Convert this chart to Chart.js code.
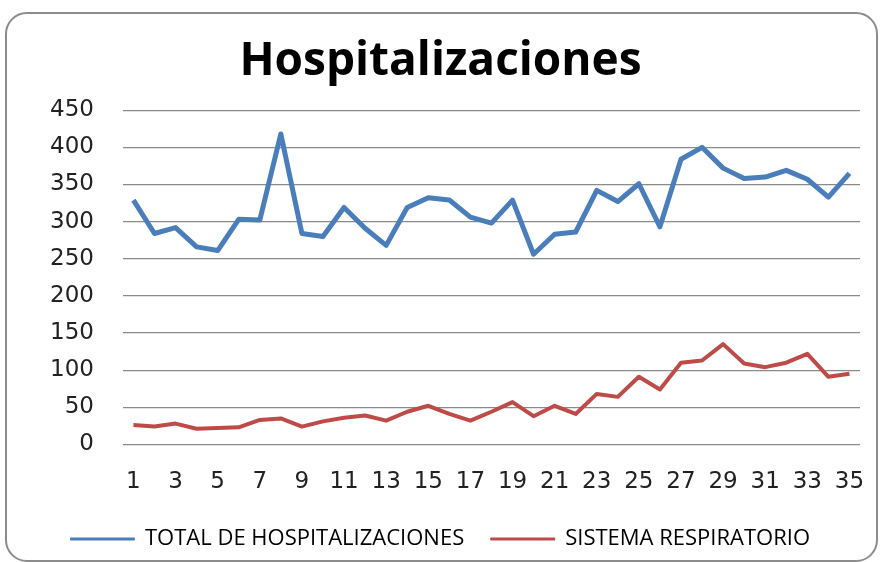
<!DOCTYPE html>
<html>
<head>
<meta charset="utf-8">
<script src="https://cdn.jsdelivr.net/npm/chart.js@4"></script>
<style>
  body { margin: 0; background: #fff; }
  #wrap { position: relative; width: 884px; height: 562px; }
  #frame {
    position: absolute; left: 5px; top: 12px; width: 873px; height: 550px;
    border: 2px solid #8c8c8c; border-radius: 22px; box-sizing: border-box;
  }
  #Chart { position: absolute; left: 0; top: 0; }
</style>
</head>
<body>
<div id="wrap">
  <div id="frame"></div>
  <canvas id="Chart" width="884" height="562"></canvas>
</div>
<script>
const days = ['1', '2', '3', '4', '5', '6', '7', '8', '9', '10', '11', '12', '13', '14', '15', '16', '17', '18',
              '19', '20', '21', '22', '23', '24', '25', '26', '27', '28', '29', '30', '31', '32', '33', '34', '35'];
const totalHosp = [329, 284, 292, 266, 261, 303, 302, 418, 284, 280, 319, 291, 268, 319, 332, 329, 306, 298,
                   329, 256, 283, 286, 342, 327, 351, 293, 384, 400, 372, 358, 360, 369, 357, 333, 365];
const respiratorio = [26, 24, 28, 21, 22, 23, 33, 35, 24, 31, 36, 39, 32, 44, 52, 41, 32, 44,
                      57, 38, 52, 41, 68, 64, 91, 74, 110, 113, 135, 109, 104, 110, 122, 91, 95];
const yMax = 450;
const yStep = 50;

const ctx = document.getElementById('Chart').getContext('2d');
const hospChart = new Chart(ctx, {
    type: 'line',
    data: {
        labels: days,
        datasets: [{
            label: 'TOTAL DE HOSPITALIZACIONES',
            data: totalHosp,
            borderColor: '#4a7ebb',
            backgroundColor: '#4a7ebb',
            borderWidth: 5,
            pointRadius: 0,
            tension: 0,
            borderJoinStyle: 'round'
        }, {
            label: 'SISTEMA RESPIRATORIO',
            data: respiratorio,
            borderColor: '#be4b48',
            backgroundColor: '#be4b48',
            borderWidth: 4,
            pointRadius: 0,
            tension: 0,
            borderJoinStyle: 'round'
        }]
    },
    options: {
        responsive: false,
        animation: false,
        layout: { padding: { left: 21, right: 24, top: 0, bottom: 2 } },
        plugins: {
            title: {
                display: true,
                text: 'Hospitalizaciones',
                color: '#000',
                font: { family: 'Open Sans', size: 46, weight: 'bold' },
                padding: { top: 34, bottom: 21 }
            },
            legend: {
                position: 'bottom',
                labels: {
                    color: '#000',
                    font: { family: 'Open Sans', size: 22 },
                    boxWidth: 63,
                    boxHeight: 1,
                    padding: 27,
                    generateLabels: function(chart) {
                        const items = Chart.defaults.plugins.legend.labels.generateLabels(chart);
                        items.forEach(function(it) { it.lineWidth = 2; });
                        return items;
                    }
                }
            },
            tooltip: { enabled: false }
        },
        scales: {
            x: {
                offset: true,
                grid: { display: false, drawTicks: false },
                border: { display: false },
                afterFit: function(scale) {
                    scale.height -= 19;
                    scale.paddingLeft = 0;
                    scale.paddingRight = 0;
                },
                ticks: {
                    autoSkip: false,
                    maxRotation: 0,
                    padding: 24,
                    color: '#222',
                    font: { family: 'DejaVu Sans', size: 23 },
                    callback: function(value, index) {
                        return index % 2 === 0 ? days[index] : '';
                    }
                }
            },
            y: {
                min: 0,
                max: yMax,
                grid: { color: '#8a8a8a', lineWidth: 1.2, drawTicks: false },
                border: { display: false },
                ticks: {
                    stepSize: yStep,
                    padding: 29,
                    color: '#222',
                    font: { family: 'DejaVu Sans', size: 23 }
                }
            }
        }
    }
});
</script>
</body>
</html>
